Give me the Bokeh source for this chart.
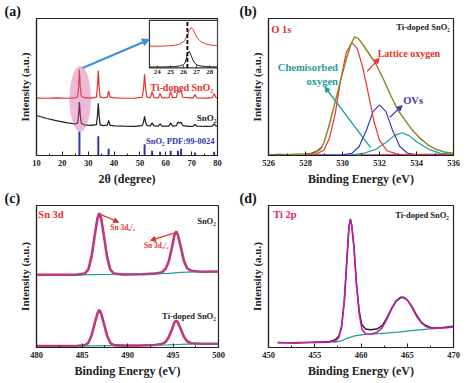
from bokeh.plotting import figure
from bokeh.layouts import column, row
from bokeh.models import Label, Arrow, NormalHead, Range1d, FixedTicker
from bokeh.core.properties import value
from bokeh.embed import file_html
from bokeh.resources import INLINE

FONT = "Liberation Serif"

# ---------------- data: (a) XRD ----------------
x_xrd = [10, 14, 18, 22, 25, 25.9, 26.3, 26.6, 26.9, 27.3, 28.5, 31, 33.2, 33.6, 33.9, 34.2, 34.6, 36,
         37.4, 37.9, 38.4, 40, 44, 48, 50.9, 51.4, 51.8, 52.2, 52.7, 54.0, 54.7, 55.4, 57.1, 57.8, 58.5,
         61.2, 61.9, 62.6, 64.1, 64.7, 65.3, 65.9, 66.6, 69, 70.6, 71.3, 72.0, 76, 78.0, 78.7, 79.4, 80]
y_sno2 = [29.2, 27.0, 25.3, 23.8, 23.0, 23.8, 30, 39, 30, 23.5, 22.4, 22.0, 22.6, 29.5, 38.2, 29.5, 22.4, 21.8,
          22.2, 25.7, 22.2, 21.6, 21.4, 21.3, 21.8, 24.5, 28.5, 24.5, 21.8, 21.6, 23.8, 21.6, 21.4, 23.0, 21.4,
          21.5, 23.6, 21.5, 21.8, 24.5, 23.5, 24.3, 21.8, 21.3, 21.4, 22.6, 21.4, 21.3, 21.5, 23.0, 21.6, 21.4]
y_ti_sno2 = [41.9, 41.8, 42.0, 41.8, 42.0, 43.0, 50, 62.7, 51, 43.5, 42.2, 41.9, 42.6, 51, 62.0, 51, 42.8, 42.0,
             42.6, 47.2, 42.8, 42.0, 41.8, 41.9, 42.5, 49, 59.2, 49, 42.6, 42.2, 46.5, 42.3, 42.0, 45.3, 42.1,
             42.2, 46.5, 42.3, 42.4, 47.7, 46.0, 47.7, 42.5, 42.0, 42.1, 44.4, 42.1, 41.9, 42.2, 45.1, 42.3, 42.0]
pdf_pos = [26.6, 33.9, 37.9, 51.8, 54.7, 57.8, 61.9, 64.7, 65.9, 71.3, 78.7]
pdf_int = [17.6, 14.1, 4.9, 8.3, 3.5, 2.8, 3.5, 3.5, 4.9, 2.1, 2.8]
xrd_ticks = [10, 20, 30, 40, 50, 60, 70, 80]

# inset (a)
x_in = [23.4, 24.5, 25.3, 25.7, 26.0, 26.15, 26.3, 26.45, 26.6, 26.75, 26.9, 27.1, 27.35, 27.7, 28.1, 28.6]
red_in = [45.5, 46, 47.5, 50, 55, 61, 70, 79, 85, 80, 71, 62, 55, 50.5, 48, 47]
black_in = [2, 2.2, 2.8, 4, 7, 12, 30, 35, 25, 15, 9, 5.5, 4, 3, 2.4, 2.2]
inset_ticks = [24, 25, 26, 27, 28]
inset_ref = 26.3

# ---------------- data: (b) O 1s ----------------
x_o = [526, 527, 528, 528.5, 528.8, 529.0, 529.3, 529.6, 529.9, 530.2, 530.45, 530.65, 530.85, 531.1,
       531.4, 531.8, 532.2, 532.6, 533.0, 533.4, 533.8, 534.2, 534.6, 535.0, 535.5, 536]
y_o_env = [0.4, 0.6, 0.9, 1.8, 4.5, 9.5, 23, 39, 55, 70, 81, 86.5, 85.5, 81, 75, 67, 56, 44, 33, 25.5,
           18, 12.5, 8, 4.8, 2.5, 1.6]
x_o_raw = [526, 526.5, 527, 527.5, 528, 528.3, 528.6, 528.9]
y_o_raw = [0.5, 0.9, 0.6, 0.8, 1.0, 1.6, 3.0, 6.5]
x_lat = [526, 528.5, 529.0, 529.3, 529.6, 529.9, 530.2, 530.5, 530.8, 531.1, 531.4, 531.7, 532.0, 532.4, 533, 536]
y_lat = [0, 0.4, 4, 13, 30, 55, 75, 82.4, 78, 64, 45, 25, 11, 3.5, 0.8, 0.3]
x_ov = [526, 530.0, 530.5, 530.9, 531.3, 531.65, 532.0, 532.35, 532.7, 533.1, 533.5, 534.0, 536]
y_ov = [0.2, 0.4, 1.5, 6.6, 18.6, 32, 36.9, 32, 18.6, 6.6, 1.8, 0.5, 0.3]
x_chem = [526, 530.5, 531.2, 531.8, 532.4, 532.8, 533.2, 533.6, 534.0, 534.7, 535.3, 536]
y_chem = [0.2, 0.5, 1.8, 4.5, 10, 14.5, 16.6, 14.5, 10, 4.3, 1.6, 0.8]
x_o_bg = [526, 531, 536]
y_o_bg = [0.3, 0.5, 1.0]
o_ticks = [526, 528, 530, 532, 534, 536]

# ---------------- data: (c) Sn 3d ----------------
x_sn = [480, 482, 484.5, 485.3, 485.7, 486.05, 486.4, 486.7, 486.9, 487.1, 487.4, 487.75, 488.1, 488.5, 489.5,
        491.5, 493.0, 493.8, 494.2, 494.55, 494.9, 495.15, 495.35, 495.55, 495.85, 496.2, 496.55, 497, 498, 500]
y_sn_sno2 = [51.2, 51.2, 51.3, 52, 55, 64, 79, 91, 94.6, 91, 79, 64, 55, 52, 51.4, 51.6, 52, 53, 55.5, 61, 71,
             79, 81.9, 79, 71, 61, 55.8, 54, 53.3, 53.5]
y_sn_ti = [1.0, 1.0, 1.2, 1.6, 3.3, 8.5, 17, 24, 26.5, 24, 17, 8.5, 3.3, 1.7, 1.3, 1.4, 1.8, 2.5, 4, 7.5, 13,
           17.5, 19.0, 17.5, 13, 7.5, 4.4, 3, 2.6, 2.6]
x_sn_bg = [484, 486, 488, 490, 493, 494.5, 495.5, 496.5, 498, 500]
y_sn_bg_sno2 = [51.2, 51.3, 51.4, 51.6, 51.9, 52.2, 52.7, 53.1, 53.4, 53.5]
y_sn_bg_ti = [1.1, 1.2, 1.3, 1.4, 1.6, 1.8, 2.1, 2.4, 2.6, 2.6]
sn_ticks = [480, 485, 490, 495, 500]

# ---------------- data: (d) Ti 2p ----------------
x_ti = [451, 453, 455, 456.5, 457.2, 457.6, 457.9, 458.2, 458.5, 458.7, 458.85, 459.0, 459.25, 459.5, 459.8,
        460.1, 460.5, 461.0, 461.7, 462.3, 462.8, 463.3, 463.8, 464.3, 464.6, 465.0, 465.5, 466.0, 466.5,
        467.0, 467.6, 468.5, 469.3, 470]
y_ti_fit = [3.3, 3.4, 3.6, 3.8, 4.5, 7, 14, 33, 65, 85, 89.9, 86, 70, 45, 24, 13, 9.5, 9.3, 10.5, 14, 20, 27,
            32.5, 35, 35, 33.5, 28.5, 22, 17.5, 14.8, 13.5, 13.6, 14, 14.5]
y_ti_raw = [3.5, 3.2, 3.8, 4.0, 5.5, 8, 15, 33, 64, 85, 90.5, 86, 70, 46, 26, 16, 13, 12.5, 13, 15.5, 21, 27.5,
            33, 35.5, 35.5, 33.5, 29, 23, 18, 15.5, 14, 13.8, 14.5, 15]
x_ti_bg = [457, 457.8, 458.5, 459.3, 460.5, 462, 464, 466, 468]
y_ti_bg = [3.7, 4.5, 6.5, 8.2, 9.2, 9.8, 10.8, 12.2, 13.4]
ti_ticks = [450, 455, 460, 465, 470]

panel_tags = ["(a)", "(b)", "(c)", "(d)"]

# ---------------- colours ----------------
RED = "#e8302e"
BLACK = "#1c1c1c"
PDF_BLUE = "#3434ac"
ARROW_BLUE = "#3f8fdc"
PINK = "#d44f9c"
OLIVE = "#8a8a2a"
OV_BLUE = "#3a3abf"
TEAL = "#1f9e9a"
MAG = "#c8359e"
PURPLE = "#9a40c4"
TI_MAG = "#c21ea2"
TI_RED = "#e8206a"

ROW1_H, ROW2_H = 188, 195


def make_fig(xr, ticks, minor, w, h, bl, br, bt, bb, xlabel, tag):
    p = figure(width=w, height=h, x_range=xr, y_range=(0, 100), output_backend="svg",
               toolbar_location=None, min_border_left=bl, min_border_right=br,
               min_border_top=bt, min_border_bottom=bb)
    p.grid.visible = False
    p.background_fill_color = "white"
    p.border_fill_color = "white"
    p.outline_line_color = "#222222"
    p.outline_line_width = 1.2
    # panel tag as a title, pulled left beyond the frame
    p.title.text = tag
    p.title.align = "left"
    p.title.offset = -(bl - 4)
    p.title.standoff = 0
    p.title.text_font = FONT
    p.title.text_font_style = "bold"
    p.title.text_font_size = "14px"
    p.title.text_color = "#111111"
    ax = p.xaxis[0]
    ax.ticker = FixedTicker(ticks=ticks, minor_ticks=minor)
    ax.axis_line_color = "#222222"
    ax.axis_line_width = 1.2
    ax.major_tick_in = 4
    ax.major_tick_out = 0
    ax.minor_tick_in = 2
    ax.minor_tick_out = 0
    ax.major_tick_line_color = "#222222"
    ax.minor_tick_line_color = "#222222"
    ax.major_label_text_font = FONT
    ax.major_label_text_font_style = "bold"
    ax.major_label_text_font_size = "8.5px"
    ax.major_label_text_color = "#222222"
    ax.major_label_standoff = 4
    ax.axis_label = xlabel
    ax.axis_label_text_font = FONT
    ax.axis_label_text_font_style = "bold"
    ax.axis_label_text_font_size = "12px"
    ax.axis_label_text_color = "#222222"
    ax.axis_label_standoff = 3
    ay = p.yaxis[0]
    ay.ticker = FixedTicker(ticks=[])
    ay.major_label_text_font_size = "0px"
    ay.major_label_standoff = 0
    ay.major_tick_out = 0
    ay.minor_tick_out = 0
    ay.axis_line_color = "#222222"
    ay.axis_line_width = 1.2
    ay.axis_label = "Intensity (a.u.)"
    ay.axis_label_text_font = FONT
    ay.axis_label_text_font_style = "bold"
    ay.axis_label_text_font_size = "11px"
    ay.axis_label_text_color = "#222222"
    ay.axis_label_standoff = 6
    return p


def lab(p, x, y, text, color="#222222", size="9px", align="left", baseline="middle", **kw):
    p.add_layout(Label(x=x, y=y, text=text, text_color=color, text_font=FONT, text_font_style="bold",
                       text_font_size=size, text_align=align, text_baseline=baseline, **kw))


def arrow(p, x0, y0, x1, y1, color, width=1.5, size=6, **kw):
    p.add_layout(Arrow(end=NormalHead(size=size, fill_color=color, line_color=color),
                       x_start=x0, y_start=y0, x_end=x1, y_end=y1,
                       line_color=color, line_width=width, **kw))


def extend(lo, hi, f0, f1):
    span = (hi - lo) / (f1 - f0)
    start = lo - f0 * span
    return start, start + span


# ================= (a) =================
pa = make_fig((10, 80), xrd_ticks, [15, 25, 35, 45, 55, 65, 75], 235, ROW1_H, 36, 18, 18, ROW1_H - 162,
              "2θ (degree)", panel_tags[0])
# inset placement, as fractions of the frame
IN_L, IN_R, IN_B, IN_T = 0.624, 1.0, 0.639, 0.986
IN_X = (23.4, 28.6)
IN_Y = (0, 100)
pa.extra_x_ranges = {"ix": Range1d(*extend(IN_X[0], IN_X[1], IN_L, IN_R))}
pa.extra_y_ranges = {"iy": Range1d(*extend(IN_Y[0], IN_Y[1], IN_B, IN_T))}
pa.quad(left=[IN_X[0]], right=[IN_X[1]], bottom=[IN_Y[0]], top=[IN_Y[1]], fill_color="white",
        line_color="#333333", line_width=1.2, x_range_name="ix", y_range_name="iy")

pa.segment(x0=pdf_pos, y0=[0] * len(pdf_pos), x1=pdf_pos, y1=pdf_int, line_color=PDF_BLUE, line_width=2)
pa.line(x_xrd, y_sno2, line_color=BLACK, line_width=1.2)
pa.line(x_xrd, y_ti_sno2, line_color=RED, line_width=1.2)
pa.ellipse(x=[26.9], y=[41.3], width=[8.3], height=[47.9], fill_color=PINK, fill_alpha=0.4, line_color=None)
arrow(pa, 27.8, 63.9, 53.7, 84.7, ARROW_BLUE, width=2, size=7)

# inset content
pa.line(x_in, red_in, line_color=RED, line_width=1, x_range_name="ix", y_range_name="iy")
pa.line(x_in, black_in, line_color=BLACK, line_width=1, x_range_name="ix", y_range_name="iy")
pa.segment(x0=[inset_ref], y0=[0], x1=[inset_ref], y1=[100], line_color="black", line_width=1.8,
           line_dash="4 2", x_range_name="ix", y_range_name="iy")
pa.segment(x0=inset_ticks, y0=[0] * 5, x1=inset_ticks, y1=[5] * 5, line_color="#333333",
           x_range_name="ix", y_range_name="iy")
pa.text(x=inset_ticks, y=[-4] * 5, text=[str(t) for t in inset_ticks], text_font=value(FONT),
        text_font_style="bold", text_font_size="7px", text_align="center", text_baseline="top",
        text_color="#222222", x_range_name="ix", y_range_name="iy")

lab(pa, 78.4, 49.3, "Ti-doped SnO₂", RED, "10px", align="right")
lab(pa, 79.6, 27.5, "SnO₂", "#222222", "9px", align="right")
lab(pa, 78.8, 10.9, "SnO₂ PDF:99-0024", PDF_BLUE, "8.5px", align="right")

# ================= (b) =================
pb = make_fig((526, 536), o_ticks, [527, 529, 531, 533, 535], 236, ROW1_H, 33, 18, 16, ROW1_H - 156,
              "Binding Energy (eV)", panel_tags[1])
pb.line(x_o_bg, y_o_bg, line_color=MAG, line_width=1.2)
pb.line(x_chem, y_chem, line_color=TEAL, line_width=1.2)
pb.line(x_ov, y_ov, line_color=OV_BLUE, line_width=1.2)
pb.line(x_lat, y_lat, line_color=RED, line_width=1.2)
pb.line(x_o_raw, y_o_raw, line_color="#333333", line_width=1.2)
pb.line(x_o, y_o_env, line_color=OLIVE, line_width=1.5)
arrow(pb, 531.34, 61.4, 531.98, 70.9, RED, width=1.3, size=5)
arrow(pb, 532.56, 27.9, 533.22, 36.4, OV_BLUE, width=1.3, size=5)
arrow(pb, 531.52, 5.7, 529.05, 50.0, TEAL, width=1.3, size=5)
lab(pb, 526.15, 92, "O 1s", RED, "10.5px")
lab(pb, 535.8, 93.6, "Ti-doped SnO₂", "#222222", "8.5px", align="right")
lab(pb, 531.9, 74.5, "Lattice oxygen", RED, "10px")
lab(pb, 529.75, 64.3, "Chemisorbed", TEAL, "10.5px", align="right")
lab(pb, 529.75, 54.3, "oxygen", TEAL, "10.5px", align="right")
lab(pb, 533.28, 40, "OVs", OV_BLUE, "10.5px")

# ================= (c) =================
pc = make_fig((480, 500), sn_ticks, [482.5, 487.5, 492.5, 497.5], 235, ROW2_H, 36, 17, 14, 36,
              "Binding Energy (eV)", panel_tags[2])
pc.line(x_sn, y_sn_sno2, line_color=RED, line_width=2.6)
pc.line(x_sn, y_sn_ti, line_color=RED, line_width=2.6)
pc.line(x_sn_bg, y_sn_bg_sno2, line_color=TEAL, line_width=1.2)
pc.line(x_sn_bg, y_sn_bg_ti, line_color=TEAL, line_width=1.2)
pc.line(x_sn, y_sn_sno2, line_color=PURPLE, line_width=1.3)
pc.line(x_sn, y_sn_ti, line_color=PURPLE, line_width=1.3)
arrow(pc, 487.03, 93.7, 489.04, 88.2, RED, width=1.3, size=5)
arrow(pc, 495.46, 81.2, 492.53, 75.4, RED, width=1.3, size=5)
lab(pc, 480.2, 93.7, "Sn 3d", RED, "10.5px")
lab(pc, 499.7, 89.4, "SnO₂", "#222222", "8.5px", align="right")
lab(pc, 499.7, 22.5, "Ti-doped SnO₂", "#222222", "8.5px", align="right")
lab(pc, 488.1, 84.7, "Sn 3d₅/₂", RED, "7.5px")
lab(pc, 491.8, 71.8, "Sn 3d₃/₂", RED, "7.5px")

# ================= (d) =================
pd_ = make_fig((450, 470), ti_ticks, [452.5, 457.5, 462.5, 467.5], 236, ROW2_H, 33, 18, 14, 36,
               "Binding Energy (eV)", panel_tags[3])
pd_.line(x_ti, y_ti_raw, line_color="#222222", line_width=1.4)
pd_.line(x_ti_bg, y_ti_bg, line_color=TEAL, line_width=1.3)
pd_.line(x_ti, y_ti_fit, line_color=TI_MAG, line_width=1.6)
lab(pd_, 450.5, 93.7, "Ti 2p", TI_RED, "10.5px")
lab(pd_, 469.5, 93.0, "Ti-doped SnO₂", "#222222", "8.5px", align="right")

layout = column(row(pa, pb), row(pc, pd_))
open("out.html", "w").write(file_html(layout, INLINE))
